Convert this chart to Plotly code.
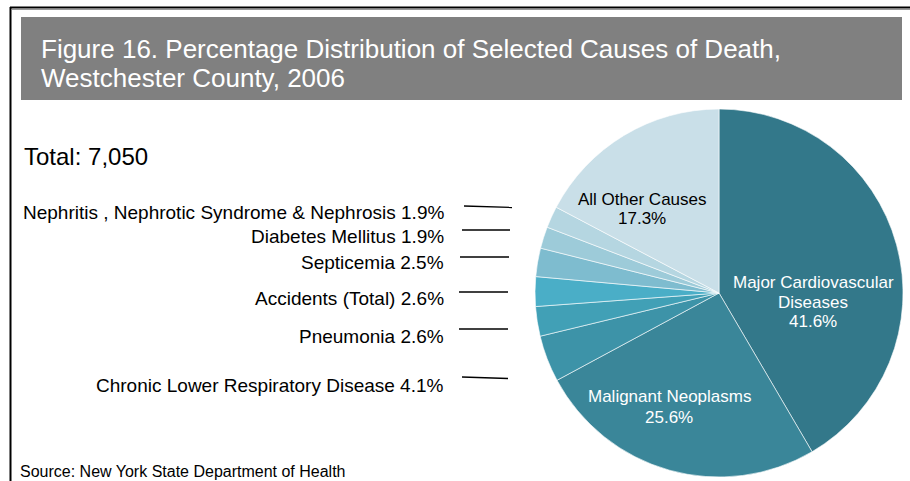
import plotly.graph_objects as go

W, H = 910, 481

causes = [
    "Major Cardiovascular Diseases",
    "Malignant Neoplasms",
    "Chronic Lower Respiratory Disease",
    "Pneumonia",
    "Accidents (Total)",
    "Septicemia",
    "Diabetes Mellitus",
    "Nephritis , Nephrotic Syndrome & Nephrosis",
    "All Other Causes",
]
percents = [41.6, 25.6, 4.1, 2.6, 2.6, 2.5, 1.9, 1.9, 17.3]
colors = ["#33788A", "#3A8699", "#3D93A8", "#41A0B6", "#4AAEC7",
          "#7EBCCF", "#9DCBD9", "#B5D6E1", "#C9DFE8"]
total_deaths = "7,050"
title_lines = ["Figure 16. Percentage Distribution of Selected Causes of Death,",
               "Westchester County, 2006"]
source = "Source: New York State Department of Health"

FONT = "Liberation Sans, Arial, sans-serif"


def px(x):
    return x / W


def py(y):
    return 1 - y / H


fig = go.Figure()
fig.add_trace(go.Pie(
    labels=causes,
    values=percents,
    sort=False,
    direction="clockwise",
    rotation=0,
    marker=dict(colors=colors, line=dict(color="white", width=0.6)),
    textinfo="none",
    hoverinfo="label+percent",
    showlegend=False,
    domain=dict(x=[px(535), px(903)], y=[py(478), py(108)]),
))

shapes = []
annotations = []

# frame
shapes.append(dict(type="line", xref="paper", yref="paper", x0=px(10.5), x1=px(10.5),
                   y0=py(7), y1=py(481), line=dict(color="black", width=2)))
shapes.append(dict(type="line", xref="paper", yref="paper", x0=px(10), x1=px(910),
                   y0=py(7.5), y1=py(7.5), line=dict(color="black", width=2)))
shapes.append(dict(type="line", xref="paper", yref="paper", x0=px(12), x1=px(910),
                   y0=py(9.5), y1=py(9.5), line=dict(color="#9a9a9a", width=1)))
# title band
shapes.append(dict(type="rect", xref="paper", yref="paper", x0=px(21), x1=px(902),
                   y0=py(100), y1=py(17), fillcolor="#808080", line=dict(width=0),
                   layer="below"))
for i, t in enumerate(title_lines):
    annotations.append(dict(text=t, xref="paper", yref="paper", x=px(39), y=py(49 + 29 * i),
                            xanchor="left", yanchor="middle", showarrow=False,
                            font=dict(family=FONT, size=26, color="white")))

annotations.append(dict(text=f"Total: {total_deaths}", xref="paper", yref="paper",
                        x=px(22), y=py(157), xanchor="left", yanchor="middle",
                        showarrow=False, font=dict(family=FONT, size=24, color="black")))

# left side labels for small slices
small = {
    7: (212, (464, 206, 512, 207.5)),
    6: (236, (462, 230, 510, 230)),
    5: (262, (460, 257, 509, 257)),
    4: (298, (459, 292, 508, 292)),
    3: (336, (459, 329, 508, 329)),
    2: (385, (462, 377, 508, 378.5)),
}
for idx, (ty, (x0, y0, x1, y1)) in small.items():
    annotations.append(dict(text=f"{causes[idx]} {percents[idx]}%", xref="paper", yref="paper",
                            x=px(446), y=py(ty), xanchor="right", yanchor="middle",
                            showarrow=False, font=dict(family=FONT, size=19, color="black")))
    shapes.append(dict(type="line", xref="paper", yref="paper", x0=px(x0), y0=py(y0),
                       x1=px(x1), y1=py(y1), line=dict(color="black", width=1.3)))

# in-pie labels
inside = [
    (0, ["Major Cardiovascular", "Diseases"], 813, [282, 302, 321], "white", 17),
    (1, ["Malignant Neoplasms"], 669, [396, 417], "white", 17),
    (8, ["All Other Causes"], 642, [199, 218], "black", 17),
]
for idx, lines, cx, ys, col, fs in inside:
    for t, yy in zip(lines + [f"{percents[idx]}%"], ys):
        annotations.append(dict(text=t, xref="paper", yref="paper", x=px(cx), y=py(yy),
                                xanchor="center", yanchor="middle", showarrow=False,
                                font=dict(family=FONT, size=fs, color=col)))

annotations.append(dict(text=source, xref="paper", yref="paper", x=px(18), y=py(471),
                        xanchor="left", yanchor="middle", showarrow=False,
                        font=dict(family=FONT, size=16, color="black")))

fig.update_layout(
    width=W, height=H,
    margin=dict(l=0, r=0, t=0, b=0),
    paper_bgcolor="white",
    plot_bgcolor="white",
    shapes=shapes,
    annotations=annotations,
)

fig.write_html("out.html", config={"displayModeBar": False},
               post_script="document.body.style.margin='0';")
